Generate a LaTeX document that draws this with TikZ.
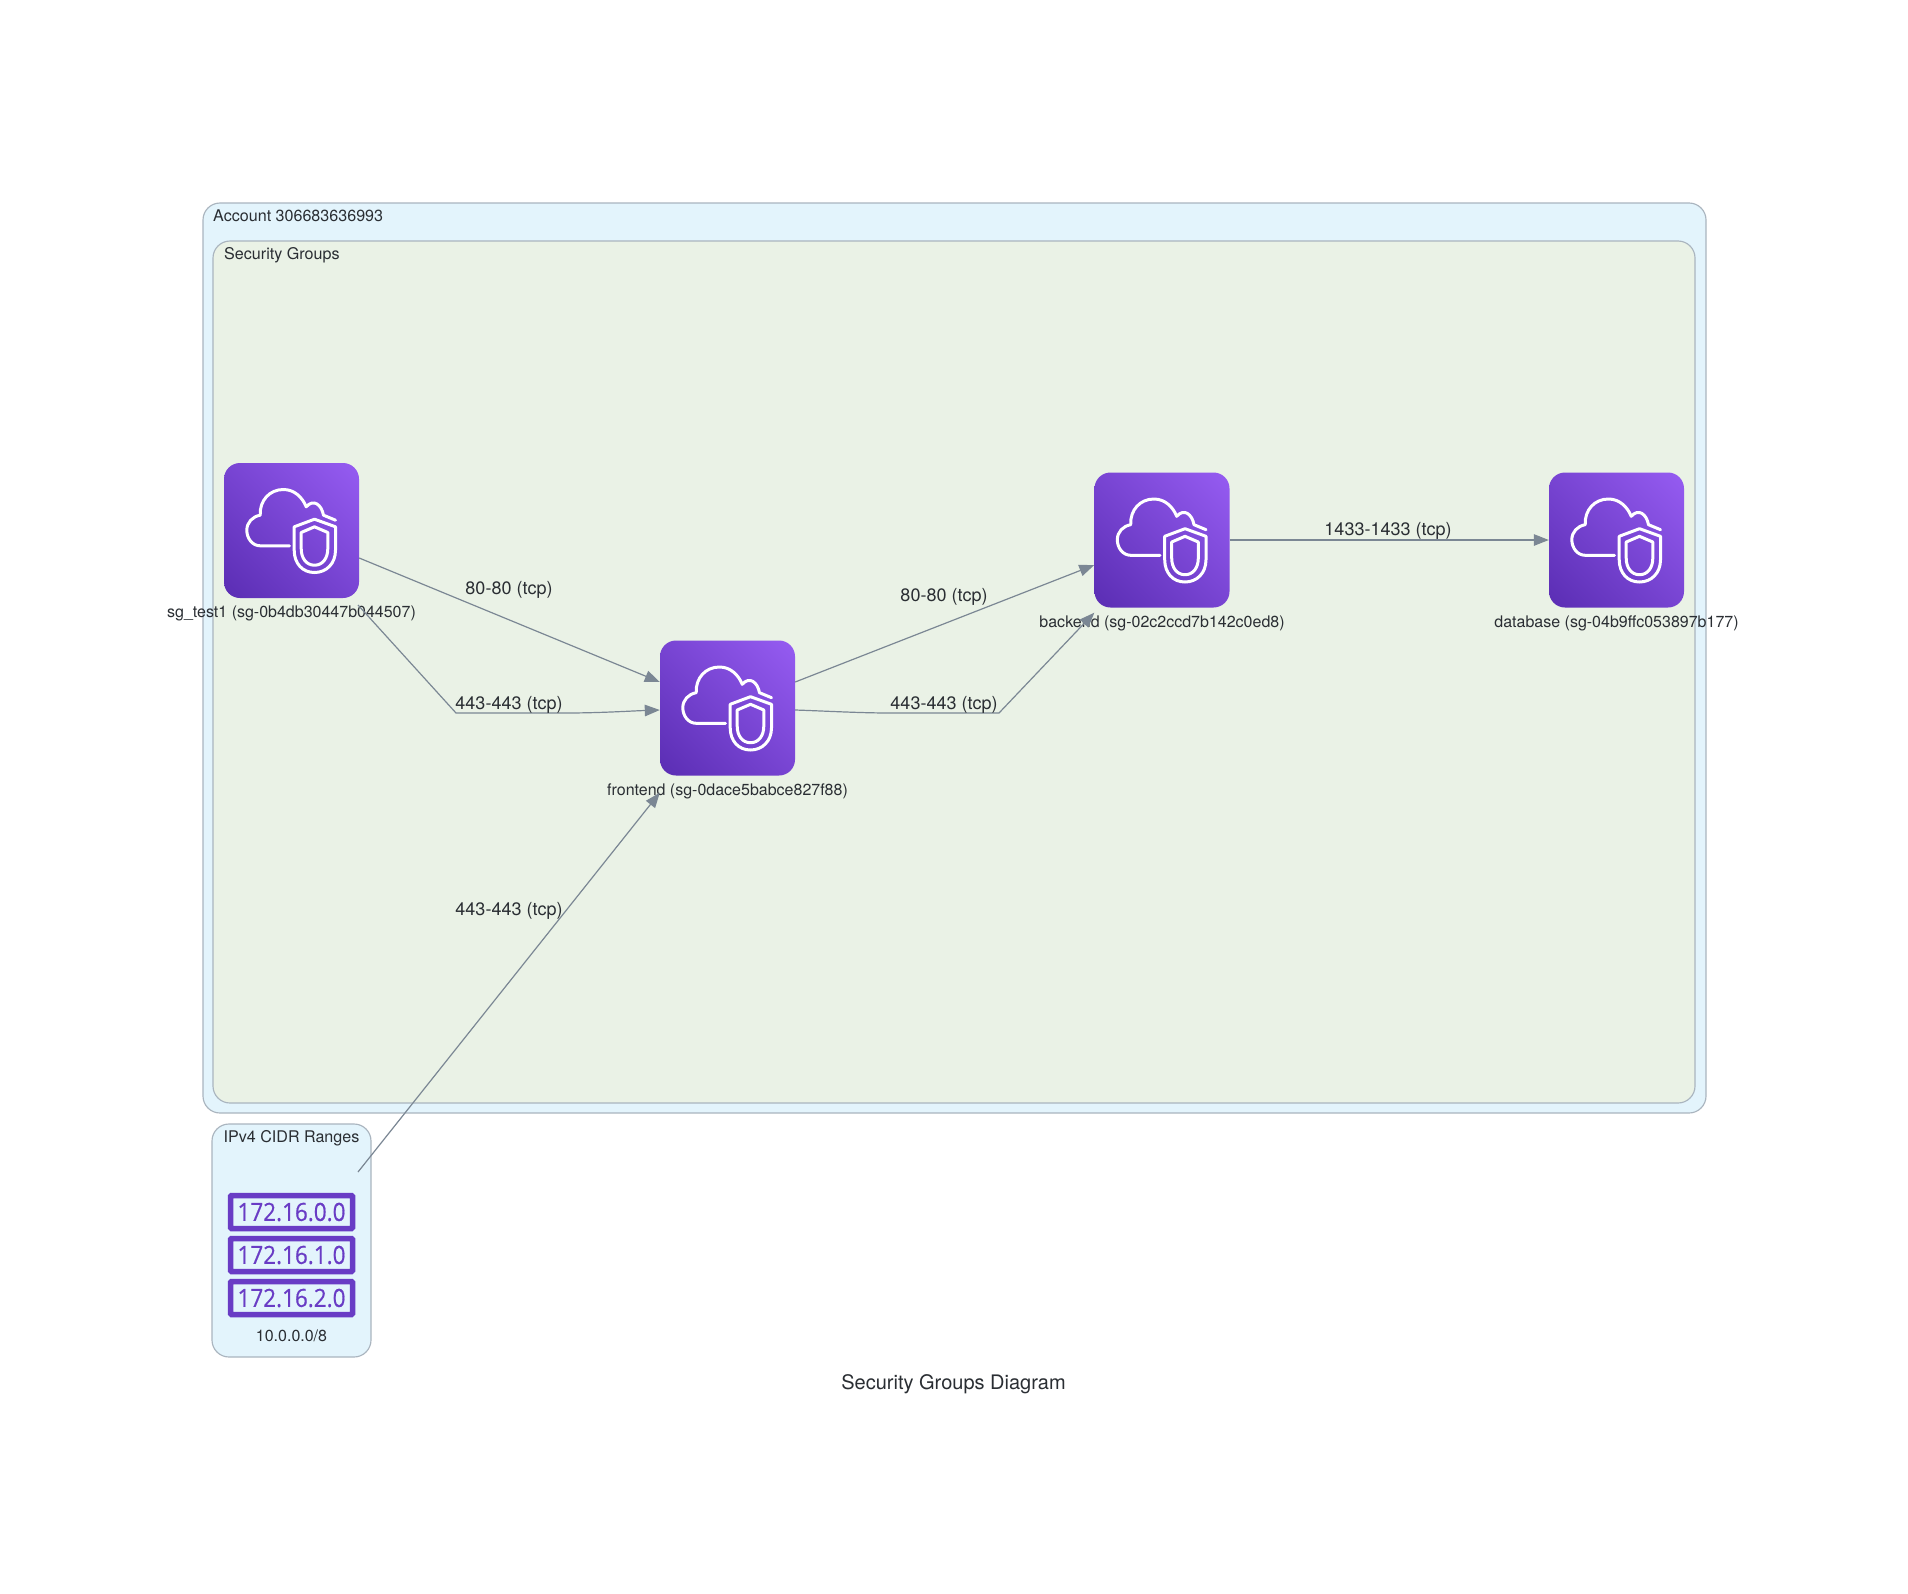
\documentclass[tikz,border=0pt]{standalone}
\usepackage{fontspec}
\setmainfont{TeX Gyre Heros}
\newfontfamily\rackfont[FakeStretch=0.9,FakeBold=0.6]{Open Sans}
\usetikzlibrary{arrows.meta,calc,shadings}
\definecolor{outerfill}{HTML}{E3F4FC}
\definecolor{innerfill}{HTML}{EAF2E6}
\definecolor{boxline}{HTML}{AAB5BF}
\definecolor{edgeline}{HTML}{7B8794}
\definecolor{inktext}{HTML}{2A2E33}
\definecolor{iconlow}{HTML}{5A2DB3}
\definecolor{iconhigh}{HTML}{965CF2}
\definecolor{rackpurple}{HTML}{693CC5}
\colorlet{iconmid}{iconlow!50!iconhigh}
\tikzset{
  x=1pt,y=-1pt,
  groupbox/.style={draw=boxline,line width=1.15pt,rounded corners=17pt},
  grouptitle/.style={text=inktext,font=\fontsize{16.1}{18}\selectfont,inner sep=0pt},
  nodelabel/.style={text=inktext,font=\fontsize{16}{18}\selectfont,inner sep=0pt,anchor=base},
  edgelabel/.style={text=inktext,font=\fontsize{18}{20}\selectfont,inner sep=0pt,anchor=base},
  link/.style={draw=edgeline,line width=1.2pt,-{Triangle[length=15pt,width=11.5pt]}},
  iconbox/.style={minimum width=135pt,minimum height=135pt,inner sep=0pt,rounded corners=16pt,
    lower left=iconlow,upper right=iconhigh,lower right=iconmid,upper left=iconmid},
  glyph/.style={draw=white,line width=3pt,line cap=round,line join=round},
  rackbox/.style={draw=rackpurple,line width=5.5pt,rounded corners=1pt,fill=outerfill,
    minimum width=122pt,minimum height=33pt,inner sep=0pt,text=rackpurple,
    font=\rackfont\fontsize{25}{26}\selectfont},
}
\newcommand{\sgicon}[3]{%
  \node[iconbox] (#1) at (#2,#3) {};
  \begin{scope}[shift={(#2,#3)}]
    \draw[glyph] (-2,15.3) -- (-31.3,15.3)
      .. controls (-39,15.3) and (-44.7,8) .. (-44.7,-0.3)
      .. controls (-44.7,-8) and (-39,-14) .. (-31.3,-15.3)
      .. controls (-32,-30) and (-22,-41) .. (-8,-41)
      .. controls (3,-41) and (11,-33) .. (14.7,-23.7)
      .. controls (22,-32) and (30,-26) .. (32,-15.3)
      -- (44,-10.3);
    \draw[glyph] (2.7,-3.7) -- (23,-11.3) -- (44,-3.7) -- (44,19.7)
      .. controls (44,33) and (35,42) .. (23,42)
      .. controls (11,42) and (2.7,33) .. (2.7,19.7) -- cycle;
    \draw[glyph] (9.7,2) -- (23,-3.7) -- (36.3,2) -- (36.3,18)
      .. controls (36.3,28) and (31,34.7) .. (23,34.7)
      .. controls (15,34.7) and (9.7,28) .. (9.7,18) -- cycle;
  \end{scope}}
\begin{document}
\begin{tikzpicture}
\useasboundingbox[fill=white] (0,0) rectangle (1908,1593);
% groups
\path[groupbox,fill=outerfill] (203,203) rectangle (1706,1113);
\node[grouptitle,anchor=base west] (acct) at (213,221) {Account 306683636993};
\path[groupbox,fill=innerfill] (213,241) rectangle (1695,1103);
\node[grouptitle,anchor=base west] (sgs) at (224,259) {Security Groups};
\path[groupbox,fill=outerfill] (212,1124) rectangle (371,1357);
\node[grouptitle,anchor=base] (cidrtitle) at (291.5,1142) {IPv4 CIDR Ranges};
% icons
\sgicon{sgone}{291.5}{530.5}
\sgicon{front}{727.5}{708}
\sgicon{back}{1162}{540}
\sgicon{data}{1616.5}{540}
\node[nodelabel] (sgonelab) at (291.5,617) {sg\_test1 (sg-0b4db30447b044507)};
\node[nodelabel] (frontlab) at (727.5,795) {frontend (sg-0dace5babce827f88)};
\node[nodelabel] (backlab) at (1162,627) {backend (sg-02c2ccd7b142c0ed8)};
\node[nodelabel] (datalab) at (1616.5,627) {database (sg-04b9ffc053897b177)};
% cidr racks
\node[rackbox] (rackone) at (291.5,1212) {172.16.0.0};
\node[rackbox] (racktwo) at (291.5,1255) {172.16.1.0};
\node[rackbox] (rackthree) at (291.5,1298) {172.16.2.0};
\node[nodelabel] (cidrlab) at (291.5,1341) {10.0.0.0/8};
\node[inner sep=0pt] (title) at (953.5,1389) [anchor=base,text=inktext,font=\fontsize{20}{22}\selectfont] {Security Groups Diagram};
% way points
\coordinate (sgonefoot) at (358,605);
\coordinate (kneeA) at (456,713);
\coordinate (kneeB) at (565,713);
\coordinate (kneeC) at (890,713);
\coordinate (kneeD) at (999,713);
\coordinate (cidrout) at (358,1172);
% connectors
\draw[link] ([yshift=-27.5pt]sgone.east) -- ([yshift=26pt]front.west);
\draw[link] (sgonefoot) -- (kneeA) -- (kneeB) .. controls (600,713) and (630,711) .. ([yshift=-2pt]front.west);
\draw[link] ([yshift=26pt]front.east) -- ([yshift=-25pt]back.west);
\draw[link] ([yshift=-2pt]front.east) .. controls (825,711) and (860,713) .. (kneeC) -- (kneeD) -- ([yshift=-5pt]back.south west);
\draw[link] (back.east) -- (data.west);
\draw[link] (cidrout) -- ([xshift=0pt,yshift=-17pt]front.south west);
% connector labels
\node[edgelabel] (lone) at (509,594) {80-80 (tcp)};
\node[edgelabel] (ltwo) at (509,709) {443-443 (tcp)};
\node[edgelabel] (lthree) at (944,601) {80-80 (tcp)};
\node[edgelabel] (lfour) at (944,709) {443-443 (tcp)};
\node[edgelabel] (lfive) at (1388,535) {1433-1433 (tcp)};
\node[edgelabel] (lsix) at (509,915) {443-443 (tcp)};
\end{tikzpicture}
\end{document}
